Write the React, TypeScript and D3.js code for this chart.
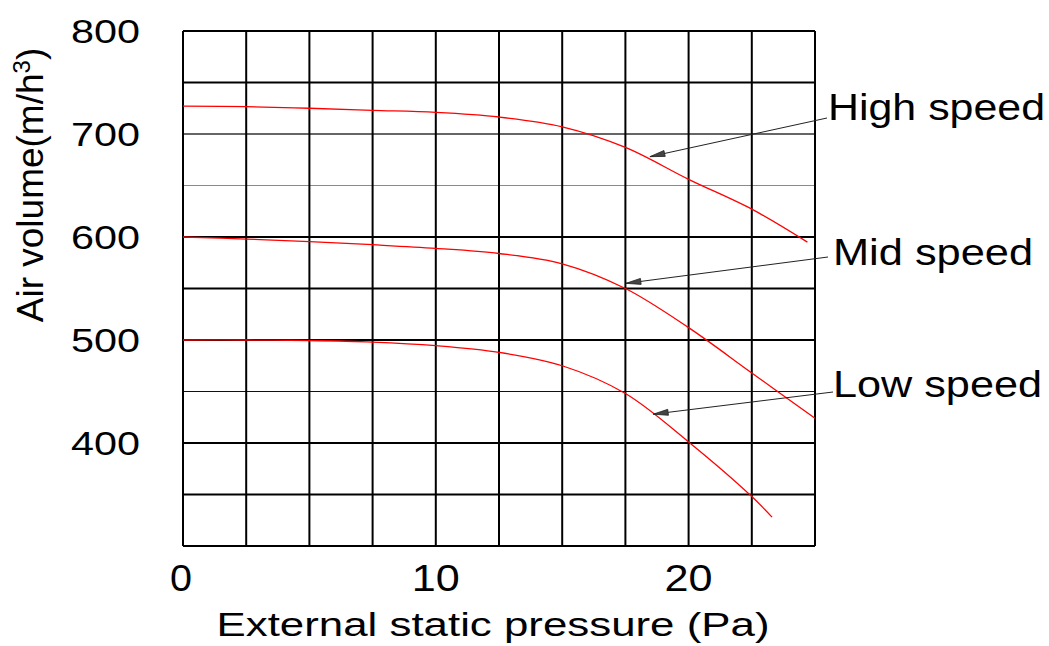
import React from "react";
import * as d3 from "d3";

const pressure = [0, 2.5, 5, 7.5, 10, 12.5, 15, 17.5, 20, 22.5];
const highSpeed = [727, 726.5, 725, 723, 721, 716.5, 707, 687, 656, 627];
const midSpeed = [600, 598, 595.5, 592.5, 589, 584, 574, 550, 512, 468];
const lowSpeed = [500, 500, 499.5, 498, 494.5, 488, 475, 448, 401, 348];
const highEnd = { x: 24.7, y: 595 };
const midEnd = { x: 25, y: 424 };
const lowEnd = { x: 23.3, y: 328 };

const xTicks = [0, 10, 20];
const yTicks = [400, 500, 600, 700, 800];
const xGrid = d3.range(0, 25.01, 2.5);
const yGridThick = [300, 350, 400, 500, 550, 600, 750, 800];
const yGridMid = [700];
const yGridThin = [450];
const yGridFaint = [650];

const labels = [
  { text: "High speed", tipX: 18.47, tipY: 678, fromX: 827, fromY: 118, lx: 828, ly: 120, w: 217 },
  { text: "Mid speed", tipX: 17.52, tipY: 555, fromX: 828, fromY: 257, lx: 833, ly: 265, w: 200 },
  { text: "Low speed", tipX: 18.6, tipY: 428, fromX: 833, fromY: 392, lx: 833, ly: 397, w: 209 },
];

const W = 1049;
const H = 646;
const left = 183, right = 815, top = 31, bottom = 546;

export default function App() {
  const x = d3.scaleLinear().domain([0, 25]).range([left, right]);
  const y = d3.scaleLinear().domain([300, 800]).range([bottom, top]);
  const line = d3
    .line<[number, number]>()
    .x((d) => x(d[0]))
    .y((d) => y(d[1]))
    .curve(d3.curveCatmullRom.alpha(0.5));
  const mk = (vals: number[], end: { x: number; y: number }) =>
    line([...pressure.map((p, i) => [p, vals[i]] as [number, number]), [end.x, end.y]]) || "";

  const font = "'Liberation Sans', Arial, Helvetica, sans-serif";

  const arrowHead = (tx: number, ty: number, fx: number, fy: number) => {
    const ang = Math.atan2(fy - ty, fx - tx);
    const len = 15, hw = 3;
    const bx = tx + len * Math.cos(ang), by = ty + len * Math.sin(ang);
    const px = -Math.sin(ang) * hw, py = Math.cos(ang) * hw;
    return `M${tx},${ty}L${bx + px},${by + py}L${bx - px},${by - py}Z`;
  };

  return (
    <svg width={W} height={H} style={{ position: "absolute", left: 0, top: 0, background: "#fff" }}>
      <rect x={0} y={0} width={W} height={H} fill="#fff" />
      {yGridFaint.map((v) => (
        <line key={"f" + v} x1={left} x2={right} y1={y(v)} y2={y(v)} stroke="#8a8a8a" strokeWidth={1} />
      ))}
      {yGridThin.map((v) => (
        <line key={"t" + v} x1={left} x2={right} y1={y(v)} y2={y(v)} stroke="#111" strokeWidth={1} />
      ))}
      {yGridMid.map((v) => (
        <line key={"m" + v} x1={left} x2={right} y1={y(v)} y2={y(v)} stroke="#333" strokeWidth={1.3} />
      ))}
      {yGridThick.map((v) => (
        <line key={"k" + v} x1={left} x2={right} y1={y(v)} y2={y(v)} stroke="#000" strokeWidth={2} />
      ))}
      {xGrid.map((v) => (
        <line key={"v" + v} x1={x(v)} x2={x(v)} y1={top} y2={bottom} stroke="#000" strokeWidth={2} />
      ))}
      <path d={mk(highSpeed, highEnd)} fill="none" stroke="#ff0000" strokeWidth={1.3} />
      <path d={mk(midSpeed, midEnd)} fill="none" stroke="#ff0000" strokeWidth={1.3} />
      <path d={mk(lowSpeed, lowEnd)} fill="none" stroke="#ff0000" strokeWidth={1.3} />
      {labels.map((l) => {
        const tx = x(l.tipX), ty = y(l.tipY);
        return (
          <g key={l.text}>
            <line x1={l.fromX} y1={l.fromY} x2={tx} y2={ty} stroke="#222" strokeWidth={1} />
            <path d={arrowHead(tx, ty, l.fromX, l.fromY)} fill="#444" stroke="#222" strokeWidth={0.8} />
            <text x={l.lx} y={l.ly} fontFamily={font} fontSize={37} fill="#000" textLength={l.w} lengthAdjust="spacingAndGlyphs">
              {l.text}
            </text>
          </g>
        );
      })}
      {yTicks.map((v) => (
        <text key={"yt" + v} x={140} y={y(v) + 12} textAnchor="end" fontFamily={font} fontSize={33} fill="#000" textLength={69} lengthAdjust="spacingAndGlyphs">
          {v}
        </text>
      ))}
      {xTicks.map((v) => (
        <text key={"xt" + v} x={x(v) - (v === 0 ? 2 : 0)} y={591} textAnchor="middle" fontFamily={font} fontSize={36} fill="#000" textLength={v === 0 ? 22 : 48} lengthAdjust="spacingAndGlyphs">
          {v}
        </text>
      ))}
      <text x={493} y={636} textAnchor="middle" fontFamily={font} fontSize={33} fill="#000" textLength={553} lengthAdjust="spacingAndGlyphs">
        External static pressure (Pa)
      </text>
      <text transform={`translate(43,185) rotate(-90)`} textAnchor="middle" fontFamily={font} fontSize={37} fill="#000">
        Air volume(m/h<tspan fontSize={24} dy={-13}>3</tspan><tspan dy={13}>)</tspan>
      </text>
    </svg>
  );
}
